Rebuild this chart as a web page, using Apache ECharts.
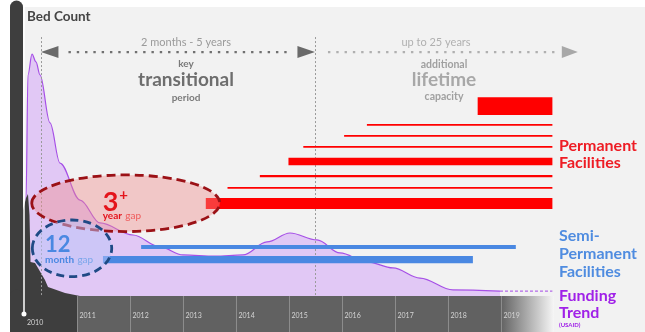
<!DOCTYPE html>
<html><head><meta charset="utf-8">
<script src="https://cdn.jsdelivr.net/npm/echarts@6/dist/echarts.min.js"></script>
<style>html,body{margin:0;padding:0;background:#fff}#c{width:645px;height:332px}</style>
</head><body><div id="c"></div>
<script>
// ---------- data ----------
const bandYears = [2010, 2011, 2012, 2013, 2014, 2015, 2016, 2017, 2018, 2019];

// Funding trend (USAID), relative level 0-100
const fundingTrend = [
  [2010.019, 0], [2010.038, 33.2], [2010.075, 76.5], [2010.151, 83.7], [2010.226, 81.0],
  [2010.302, 76.5], [2010.491, 59.9], [2010.679, 46.0], [2011.057, 33.2], [2011.434, 25.3],
  [2012.057, 21.1], [2012.566, 17.0], [2013.0, 14.2], [2013.604, 13.8], [2014.132, 14.2],
  [2014.585, 18.7], [2015.019, 21.8], [2015.528, 19.4], [2015.962, 14.9], [2016.472, 11.8],
  [2016.962, 9.7], [2017.472, 6.2], [2018.094, 2.1], [2018.981, 1.7]
];
const fundingProjected = [[2018.981, 1.7], [2019.97, 1.7]];

// Bed count (dark area)
const bedCount = [
  [2009.96, 28.0], [2010.038, 33.9], [2010.075, 35.3], [2010.104, 28.0], [2010.123, 11.8],
  [2010.208, 11.4], [2010.264, 9.7], [2010.396, 5.5], [2010.453, 3.1], [2010.774, 1.0], [2011.057, 0]
];

// Permanent facilities
const permStart    = [2018.56, 2016.47, 2016.04, 2015.27, 2014.99, 2014.45, 2013.84, 2013.43];
const permEnd      = [2019.97, 2019.97, 2019.97, 2019.97, 2019.97, 2019.97, 2019.97, 2019.97];
const permLevel    = [65.7, 59.2, 55.4, 51.6, 46.5, 41.5, 37.4, 32.0];
const permCapacity = [6.2, 0.6, 0.6, 0.6, 2.6, 0.8, 0.6, 3.8];

// Semi-permanent facilities
const semiStart    = [2012.21, 2011.49];
const semiEnd      = [2019.28, 2018.47];
const semiLevel    = [16.96, 12.6];
const semiCapacity = [1.4, 2.5];

// Gap annotations (ellipses)
const gapCenterYear  = [2011.92, 2010.906];
const gapCenterLevel = [32.1, 16.5];
const gapHalfYears   = [1.774, 0.749];
const gapHalfLevel   = [9.8, 9.8];
const gapNumber = ['3', '12'];
const gapSup    = ['+', ''];
const gapUnit   = ['year', 'month'];

// Period markers
const periodBounds = [2010.32, 2015.49, 2020.45];
const periodLevel = 84.4;
const guideTop = 89.6;

// ---------- chart ----------
const X_MIN = 2009.8585, X_MAX = 2021.623;
const chart = echarts.init(document.getElementById('c'));
const F = 'Lato';

const darkAxis = {
  type: 'value', min: 0, axisLine: {show: true, onZero: false, lineStyle: {color: '#3e3e3e', width: 13}},
  axisTick: {show: false}, axisLabel: {show: false}, splitLine: {show: false}
};

function txt(text, x, y, font, fill, align) {
  return {type: 'text', z: 100, x: x, y: y,
    style: {text: text, font: font, fill: fill, align: align || 'left', textAlign: align || 'left',
            verticalAlign: 'middle', textVerticalAlign: 'middle'}};
}

const option = {
  backgroundColor: '#ffffff',
  animation: false,
  grid: [
    {left: 16.5, top: 7, width: 623.5, height: 289},
    {left: 16.5, top: 296, width: 623.5, height: 36}
  ],
  xAxis: [
    {type: 'value', gridIndex: 0, min: X_MIN, max: X_MAX, show: false},
    {type: 'value', gridIndex: 1, min: X_MIN, max: X_MAX, show: false}
  ],
  yAxis: [
    Object.assign({}, darkAxis, {gridIndex: 0, max: 100}),
    Object.assign({}, darkAxis, {gridIndex: 1, max: 1})
  ],
  graphic: [
    {type: 'rect', z: -10, shape: {x: 10, y: 7, width: 635, height: 325}, style: {fill: '#f2f2f2'}},
    txt('Bed Count', 27, 16.5, 'bold 13.5px ' + F, '#444444'),
    txt('2 months - 5 years', 186, 42, '11px ' + F, '#9a9a9a', 'center'),
    txt('key', 186, 64, 'bold 10px ' + F, '#7a7a7a', 'center'),
    txt('transitional', 186, 80, 'bold 19px ' + F, '#6e6e6e', 'center'),
    txt('period', 186, 97.5, 'bold 10px ' + F, '#7a7a7a', 'center'),
    txt('up to 25 years', 436, 42, '11px ' + F, '#b0b0b0', 'center'),
    txt('additional', 444, 64.5, 'bold 10.5px ' + F, '#a0a0a0', 'center'),
    txt('lifetime', 444, 80, 'bold 19px ' + F, '#a8a8a8', 'center'),
    txt('capacity', 444, 97, 'bold 10.5px ' + F, '#a0a0a0', 'center'),
    txt('Permanent', 559, 146, 'bold 16px ' + F, '#ee1c24'),
    txt('Facilities', 559, 163, 'bold 16px ' + F, '#ee1c24'),
    txt('Semi-', 559, 236, 'bold 16px ' + F, '#4f8ce0'),
    txt('Permanent', 559, 254, 'bold 16px ' + F, '#4f8ce0'),
    txt('Facilities', 559, 271.5, 'bold 16px ' + F, '#4f8ce0'),
    txt('Funding', 559, 296, 'bold 16px ' + F, '#a021e8'),
    txt('Trend', 559, 313, 'bold 16px ' + F, '#a021e8'),
    txt('(USAID)', 559, 325.5, 'bold 6px ' + F, '#a021e8')
  ],
  series: [
    // bottom year band
    {
      type: 'custom', xAxisIndex: 1, yAxisIndex: 1, silent: true, z: 2,
      data: bandYears.map(y => [y, 0]), encode: {x: 0, y: 1},
      renderItem: function (params, api) {
        const y = api.value(0), i = params.dataIndex, cs = params.coordSys;
        const p0 = api.coord([y, 1]), p1 = api.coord([y + 1, 0]);
        const x0 = i === 0 ? cs.x : p0[0];
        let fill;
        if (i === 0) fill = '#3e3e3e';
        else if (i === bandYears.length - 1)
          fill = new echarts.graphic.LinearGradient(0, 0, 1, 0, [{offset: 0, color: '#626262'}, {offset: 1, color: '#f6f6f6'}]);
        else fill = '#616161';
        const ch = [{type: 'rect', shape: {x: x0, y: cs.y, width: p1[0] - x0, height: cs.height}, style: {fill: fill}}];
        if (i > 0) {
          const lx = Math.round(p0[0]) + 0.5;
          ch.push({type: 'line', shape: {x1: lx, y1: cs.y, x2: lx, y2: cs.y + cs.height}, style: {stroke: '#8c8c8c', lineWidth: 1}});
          ch.push({type: 'text', style: {text: String(y), x: p0[0] + 2.5, y: cs.y + 20, font: '7px ' + F, fill: '#d4d4d4', verticalAlign: 'middle', textVerticalAlign: 'middle'}});
        } else {
          ch.push({type: 'line', shape: {x1: p0[0], y1: cs.y, x2: p0[0], y2: cs.y + 18}, style: {stroke: '#ffffff', lineWidth: 1.5}});
          ch.push({type: 'circle', shape: {cx: p0[0], cy: cs.y + 18, r: 2.5}, style: {fill: '#ffffff'}});
          ch.push({type: 'text', style: {text: String(y), x: p0[0] + 3, y: cs.y + 26.5, font: '7px ' + F, fill: '#d4d4d4', verticalAlign: 'middle', textVerticalAlign: 'middle'}});
        }
        return {type: 'group', children: ch};
      }
    },
    // funding trend
    {
      type: 'line', xAxisIndex: 0, yAxisIndex: 0, data: fundingTrend, smooth: 0.35, smoothMonotone: 'x',
      showSymbol: false, silent: true, z: 2,
      lineStyle: {color: '#a650e6', width: 1.2}, areaStyle: {color: '#e1c8f5', opacity: 1}
    },
    {
      type: 'line', xAxisIndex: 0, yAxisIndex: 0, data: fundingProjected, showSymbol: false, silent: true, z: 2,
      lineStyle: {color: '#b36ae8', width: 1.2, type: [3, 2]}
    },
    // bed count
    {
      type: 'line', xAxisIndex: 0, yAxisIndex: 0, data: bedCount, showSymbol: false, silent: true, z: 3,
      lineStyle: {width: 0}, areaStyle: {color: '#3e3e3e', opacity: 1},
      markLine: {silent: true, symbol: 'none', label: {show: false},
        lineStyle: {color: '#ffffff', width: 1.5, type: 'solid'}, data: [{xAxis: 2010}]}
    },
    // period guide lines
    {
      type: 'custom', xAxisIndex: 0, yAxisIndex: 0, silent: true, z: 3,
      data: periodBounds.slice(0, 2).map(b => [b, guideTop]), encode: {x: 0, y: 1},
      renderItem: function (params, api) {
        const t = api.coord([api.value(0), api.value(1)]), b = api.coord([api.value(0), 0]);
        const x = Math.round(t[0]) + 0.5;
        return {type: 'line', shape: {x1: x, y1: t[1], x2: x, y2: b[1]}, style: {stroke: '#9a9a9a', lineWidth: 1, lineDash: [2, 2]}};
      }
    },
    // permanent facilities
    {
      type: 'custom', xAxisIndex: 0, yAxisIndex: 0, silent: true, z: 4,
      data: permStart.map((s, i) => [s, permEnd[i], permLevel[i], permCapacity[i]]), encode: {x: [0, 1], y: 2},
      renderItem: function (params, api) {
        const a = api.coord([api.value(0), api.value(2) + api.value(3) / 2]);
        const b = api.coord([api.value(1), api.value(2) - api.value(3) / 2]);
        return {type: 'rect', shape: {x: a[0], y: a[1], width: b[0] - a[0], height: b[1] - a[1]}, style: {fill: '#ff0000'}};
      }
    },
    // semi-permanent facilities
    {
      type: 'custom', xAxisIndex: 0, yAxisIndex: 0, silent: true, z: 4,
      data: semiStart.map((s, i) => [s, semiEnd[i], semiLevel[i], semiCapacity[i]]), encode: {x: [0, 1], y: 2},
      renderItem: function (params, api) {
        const a = api.coord([api.value(0), api.value(2) + api.value(3) / 2]);
        const b = api.coord([api.value(1), api.value(2) - api.value(3) / 2]);
        return {type: 'rect', shape: {x: a[0], y: a[1], width: b[0] - a[0], height: b[1] - a[1]}, style: {fill: '#4a88e2'}};
      }
    },
    // period arrows
    {
      type: 'custom', xAxisIndex: 0, yAxisIndex: 0, silent: true, z: 5,
      data: [[periodBounds[0], periodBounds[1], periodLevel], [periodBounds[1], periodBounds[2], periodLevel]],
      encode: {x: [0, 1], y: 2},
      renderItem: function (params, api) {
        const i = params.dataIndex;
        const a = api.coord([api.value(0), api.value(2)]), b = api.coord([api.value(1), api.value(2)]);
        const col = i === 0 ? '#707070' : '#b0b0b0';
        const headCol = i === 0 ? '#6a6a6a' : '#a8a8a8';
        const L = i === 0 ? 17.5 : 16, H = 6;
        const ch = [];
        const x0 = i === 0 ? a[0] + L + 10 : a[0] + 13;
        const x1 = b[0] - L - (i === 0 ? 5 : 7);
        ch.push({type: 'line', shape: {x1: x0, y1: a[1], x2: x1, y2: a[1]}, style: {stroke: col, lineWidth: 2.4, lineDash: [2.4, 5.9]}});
        if (i === 0) ch.push({type: 'polygon', shape: {points: [[a[0], a[1]], [a[0] + L, a[1] - H], [a[0] + L, a[1] + H]]}, style: {fill: headCol}});
        ch.push({type: 'polygon', shape: {points: [[b[0], b[1]], [b[0] - L, b[1] - H], [b[0] - L, b[1] + H]]}, style: {fill: headCol}});
        return {type: 'group', children: ch};
      }
    },
    // gap ellipses
    {
      type: 'custom', xAxisIndex: 0, yAxisIndex: 0, silent: true, z: 6,
      data: gapCenterYear.map((c, i) => [c, gapCenterLevel[i], gapHalfYears[i], gapHalfLevel[i]]), encode: {x: 0, y: 1},
      renderItem: function (params, api) {
        const i = params.dataIndex;
        const c = api.coord([api.value(0), api.value(1)]);
        const rx = api.size([api.value(2), 0])[0], ry = api.size([0, api.value(3)])[1];
        const red = i === 0;
        const ch = [{type: 'ellipse', shape: {cx: c[0], cy: c[1], rx: rx, ry: ry},
          style: {fill: red ? 'rgba(240,140,140,0.42)' : 'rgba(185,195,250,0.5)',
                  stroke: red ? '#9b1116' : '#1f4a85', lineWidth: 2.8, lineDash: red ? [9, 5] : [8, 5]}}];
        const mainCol = red ? '#e4141b' : '#4a88e2', lightCol = red ? '#ef5a5a' : '#7aa6ea';
        const nx = red ? c[0] - 23 : c[0] - 27;
        ch.push({type: 'text', style: {text: gapNumber[i], x: nx, y: red ? c[1] - 1 : c[1] - 3.5,
          font: 'bold ' + (red ? 27 : 22) + 'px ' + F, fill: mainCol, verticalAlign: 'middle', textVerticalAlign: 'middle'}});
        if (gapSup[i]) ch.push({type: 'text', style: {text: gapSup[i], x: nx + 16.5, y: c[1] - 8,
          font: 'bold 15px ' + F, fill: mainCol, verticalAlign: 'middle', textVerticalAlign: 'middle'}});
        ch.push({type: 'text', style: {text: '{b|' + gapUnit[i] + '} {l|gap}', x: nx, y: red ? c[1] + 13 : c[1] + 11,
          verticalAlign: 'middle', textVerticalAlign: 'middle',
          rich: {b: {font: 'bold 10px ' + F, fill: mainCol, color: mainCol}, l: {font: '10px ' + F, fill: lightCol, color: lightCol}}}});
        return {type: 'group', children: ch};
      }
    }
  ]
};
chart.setOption(option);
</script>
</body></html>
